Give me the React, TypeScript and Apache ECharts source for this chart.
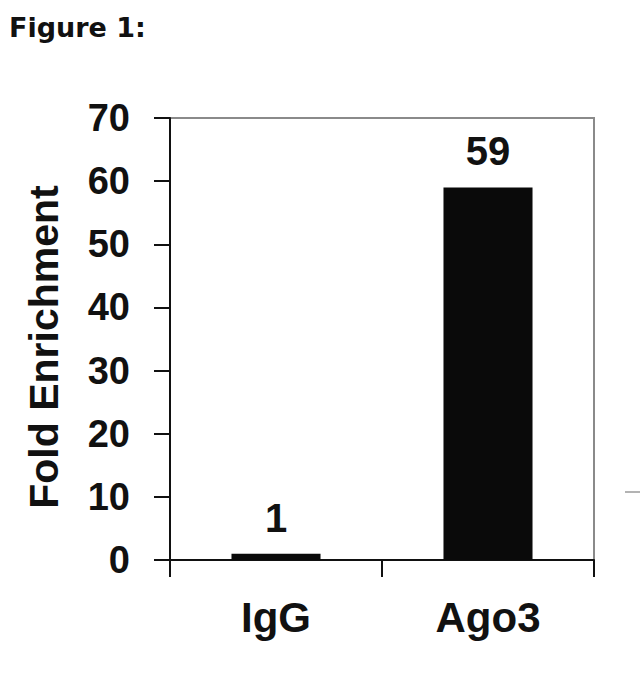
import React, { useEffect, useRef } from "react";
import * as echarts from "echarts";

const categories = ["IgG", "Ago3"];
const foldEnrichment = [1, 59];
const yTicks = { min: 0, max: 70, interval: 10 };
const titleText = "Figure 1:";
const yAxisName = "Fold Enrichment";

export default function App() {
  const ref = useRef<HTMLDivElement>(null);
  useEffect(() => {
    document.body.style.margin = "0";
    const chart = echarts.init(ref.current!, undefined, { renderer: "svg" });
    const font = "'Liberation Sans', Arial, sans-serif";
    chart.setOption({
      animation: false,
      backgroundColor: "#ffffff",
      title: {
        text: titleText,
        left: 4,
        top: 9,
        textStyle: {
          fontFamily: "'DejaVu Sans', sans-serif",
          fontWeight: "bold",
          fontSize: 27,
          color: "#111",
        },
      },
      grid: {
        left: 170,
        right: 46,
        top: 118,
        bottom: 136,
        show: true,
        borderColor: "#8a8a8a",
        borderWidth: 2,
        backgroundColor: "transparent",
      },
      xAxis: {
        type: "category",
        data: categories,
        axisLine: { lineStyle: { color: "#111", width: 2 } },
        axisTick: { show: true, length: 17, lineStyle: { color: "#111", width: 2 } },
        axisLabel: {
          margin: 36,
          fontFamily: font,
          fontWeight: "bold",
          fontSize: 42,
          color: "#111",
        },
        splitLine: { show: false },
      },
      yAxis: {
        type: "value",
        min: yTicks.min,
        max: yTicks.max,
        interval: yTicks.interval,
        name: yAxisName,
        nameLocation: "middle",
        nameGap: 106,
        nameTextStyle: {
          fontFamily: font,
          fontWeight: "bold",
          fontSize: 41,
          color: "#111",
          padding: [0, 16, 0, 0],
        },
        axisLine: { show: true, lineStyle: { color: "#111", width: 2 } },
        axisTick: { show: true, length: 16, lineStyle: { color: "#111", width: 2 } },
        axisLabel: {
          margin: 40,
          fontFamily: font,
          fontWeight: "bold",
          fontSize: 38,
          color: "#111",
        },
        splitLine: { show: false },
      },
      series: [
        {
          type: "bar",
          data: foldEnrichment,
          barWidth: "42%",
          itemStyle: { color: "#0a0a0a" },
          label: {
            show: true,
            position: "top",
            distance: 16,
            fontFamily: font,
            fontWeight: "bold",
            fontSize: 40,
            color: "#111",
          },
        },
      ],
      graphic: [
        {
          type: "line",
          shape: { x1: 625, y1: 492, x2: 640, y2: 492 },
          style: { stroke: "#9a9a9a", lineWidth: 1.5 },
        },
      ],
    });
    return () => chart.dispose();
  }, []);
  return <div ref={ref} style={{ width: 640, height: 696 }} />;
}
